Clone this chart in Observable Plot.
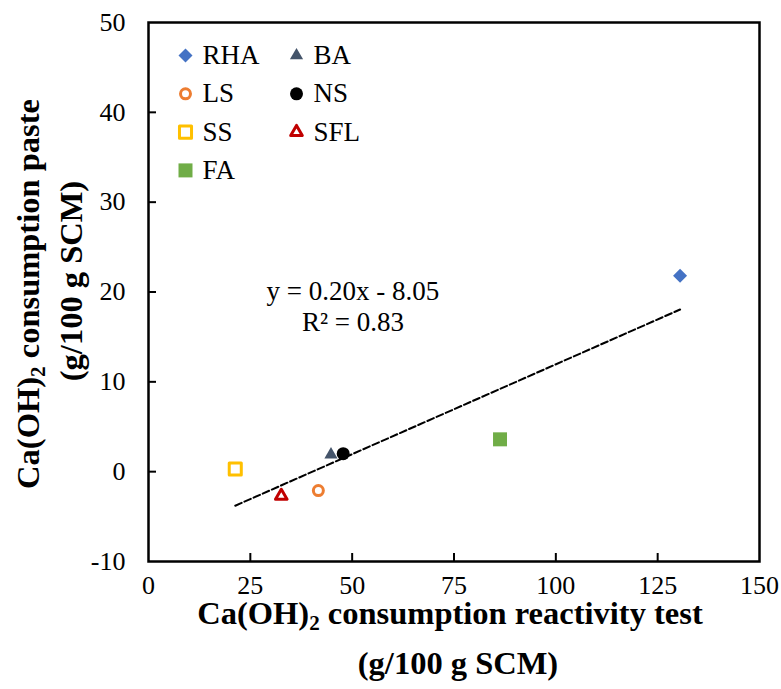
<!DOCTYPE html>
<html>
<head>
<meta charset="utf-8">
<script src="https://cdn.jsdelivr.net/npm/d3@7"></script>
<script src="https://cdn.jsdelivr.net/npm/@observablehq/plot@0.6"></script>
<style>
  html, body { margin: 0; padding: 0; background: #fff; }
  #wrap { position: relative; width: 781px; height: 689px; }
  .title { position: absolute; font-family: 'Liberation Serif'; font-weight: bold; font-size: 32.5px; line-height: 40px; height: 40px; text-align: center; color: #000; white-space: nowrap; }
  .title sub { font-size: 0.65em; vertical-align: -0.28em; line-height: 0; }
  .rot { transform: rotate(-90deg); transform-origin: 50% 50%; }
</style>
</head>
<body>
<div id="wrap">
  <div id="chart"></div>
  <div id="xtitle1" class="title">Ca(OH)<sub>2</sub> consumption reactivity test</div>
  <div id="xtitle2" class="title">(g/100 g SCM)</div>
  <div id="ytitle1" class="title rot">Ca(OH)<sub>2</sub> consumption paste</div>
  <div id="ytitle2" class="title rot">(g/100 g SCM)</div>
</div>
<script>
// ---- data ----
const series  = ["RHA", "BA", "LS", "NS", "SS", "SFL", "FA"];
const xValues = [130.5, 44.8, 41.7, 47.8, 21.3, 32.6, 86.3];
const yValues = [21.8, 1.9, -2.1, 2.0, 0.3, -2.7, 3.6];
const symbols = ["diamond2", "triangle", "circle", "circle", "square", "triangle", "square"];
const colors  = ["#4472C4", "#44546A", "#ED7D31", "#000000", "#FFC000", "#C00000", "#70AD47"];
const filled  = [true, true, false, true, false, false, true];
const xTicks = [0, 25, 50, 75, 100, 125, 150];
const yTicks = [-10, 0, 10, 20, 30, 40, 50];
const slope = 0.20, intercept = -8.05;
const equationLabel = "y = 0.20x - 8.05\nR² = 0.83";
const equationPos = {x: 50.2, y: 18.45};

// ---- styling ----
const radii = [6.3, 4.9, 5, 6.5, 6.8, 4.3, 7.9];
const W = 781, H = 689;
const margin = {top: 22, right: 22, bottom: 128, left: 148};
const plotW = W - margin.left - margin.right;
const plotH = H - margin.top - margin.bottom;
const serif = "Times New Roman";

function place(id, cx, cy, w) {
  const el = document.getElementById(id);
  el.style.width = w + "px";
  el.style.left = (cx - w / 2) + "px";
  el.style.top = (cy - 20) + "px";
}
place("xtitle1", 450, 613, 700);
place("xtitle2", 458, 663, 400);
place("ytitle1", 28, 294, 560);
place("ytitle2", 71, 281, 400);

const points = series.map((s, i) => ({series: s, x: xValues[i], y: yValues[i], i}));
const xMin = d3.min(xValues), xMax = d3.max(xValues);
const trend = [xMin, xMax].map(x => ({x, y: slope * x + intercept}));

function dotStyle(i) {
  return filled[i]
    ? {fill: colors[i], stroke: "none"}
    : {fill: "white", stroke: colors[i], strokeWidth: 3, strokeLinejoin: "round"};
}

const marks = [
  Plot.ruleX(xTicks.slice(1, -1), {insetTop: plotH - 8, stroke: "black", strokeWidth: 2}),
  Plot.ruleY(yTicks.slice(1, -1), {insetRight: plotW - 8, stroke: "black", strokeWidth: 2}),
  Plot.frame({stroke: "black", strokeWidth: 2.5}),
  Plot.axisX(xTicks, {tickSize: 0, tickPadding: 14, fontSize: 26, fontFamily: serif, tickFormat: d => String(d), label: null}),
  Plot.axisY(yTicks, {tickSize: 0, tickPadding: 23, fontSize: 26, fontFamily: serif, tickFormat: d => String(d), label: null}),
  Plot.line(trend, {x: "x", y: "y", stroke: "black", strokeWidth: 2, strokeDasharray: "7,3"}),
  Plot.text([equationLabel], {x: () => equationPos.x, y: () => equationPos.y, text: d => d,
    fontSize: 27, fontFamily: serif, textAnchor: "middle", lineHeight: 1.15, fill: "black"})
];

points.forEach((p, i) => {
  marks.push(Plot.dot([p], {x: "x", y: "y", symbol: symbols[i], r: radii[i], ...dotStyle(i)}));
});

series.forEach((s, i) => {
  const col = i % 2, row = Math.floor(i / 2);
  const dx = 37 + col * 111, dy = 33 + row * 38.3;
  marks.push(Plot.dot([s], {frameAnchor: "top-left", dx, dy, symbol: symbols[i], r: radii[i], ...dotStyle(i)}));
  marks.push(Plot.text([s], {frameAnchor: "top-left", dx: dx + 17, dy, text: d => d,
    textAnchor: "start", lineAnchor: "middle", fontSize: 27, fontFamily: serif, fill: "black"}));
});

const chart = Plot.plot({
  width: W, height: H,
  marginTop: margin.top, marginRight: margin.right, marginBottom: margin.bottom, marginLeft: margin.left,
  x: {domain: [0, 150]},
  y: {domain: [-10, 50]},
  style: {fontFamily: serif, fontSize: "26px"},
  marks
});
const st = document.createElementNS("http://www.w3.org/2000/svg", "style");
st.textContent = "text, tspan { font-family: 'Liberation Serif', 'Times New Roman', serif; }";
chart.insertBefore(st, chart.firstChild);
document.getElementById("chart").appendChild(chart);
</script>
</body>
</html>
